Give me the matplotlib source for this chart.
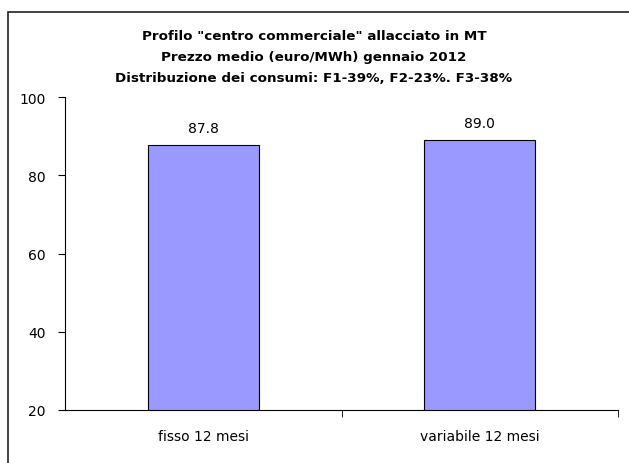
import matplotlib.pyplot as plt
from matplotlib.patches import Rectangle

categories = ['fisso 12 mesi', 'variabile 12 mesi']
prices = [87.8, 89.0]
y_ticks = [20, 40, 60, 80, 100]
title = ('Profilo "centro commerciale" allacciato in MT\n'
         'Prezzo medio (euro/MWh) gennaio 2012\n'
         'Distribuzione dei consumi: F1-39%, F2-23%. F3-38%')

plt.rcParams['font.family'] = ['DejaVu Sans']

fig = plt.figure(figsize=(6.29, 4.64), dpi=100)
fig.patches.append(Rectangle((8 / 629, -0.05), 1.0, 1.0 - 13 / 464 + 0.05,
                             transform=fig.transFigure, fill=False,
                             edgecolor='#222222', linewidth=1.2))

ax = fig.add_axes([65 / 629, 53 / 464, 553 / 629, 313 / 464])
x = list(range(len(categories)))
bars = ax.bar(x, prices, width=0.4, color='#9999FF', edgecolor='black', linewidth=0.8)
for xi, v in zip(x, prices):
    ax.text(xi, v + 2.6, f'{v:.1f}', ha='center', va='bottom', fontsize=10)

ax.set_xlim(-0.5, len(categories) - 0.5)
ax.set_ylim(20, 100)
ax.set_yticks(y_ticks)
ax.set_xticks(x)
ax.set_xticklabels(categories, fontsize=10)
ax.tick_params(axis='x', length=0, pad=14)
ax.set_xticks([i + 0.5 for i in x], minor=True)
ax.tick_params(axis='x', which='minor', length=5, direction='out')
ax.tick_params(axis='y', labelsize=10, length=5, pad=9)
ax.spines['top'].set_visible(False)
ax.spines['right'].set_visible(False)

fig.text(314 / 629, 1 - 30 / 464, title, ha='center', va='top',
         fontsize=9.7, fontweight='bold', linespacing=1.78)

fig.savefig('out.png', dpi=100)
